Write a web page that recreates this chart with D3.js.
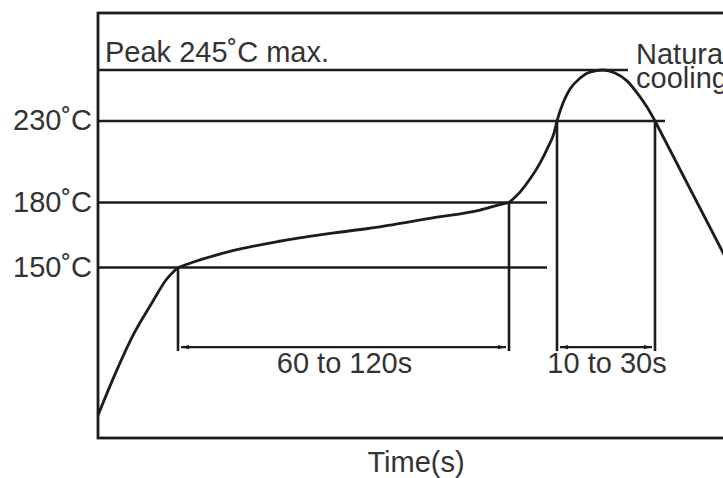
<!DOCTYPE html>
<html>
<head>
<meta charset="utf-8">
<script src="https://cdn.jsdelivr.net/npm/d3@7"></script>
<style>
  body { margin: 0; background: #fff; }
  svg { display: block; }
  .lbl { font-family: "Liberation Sans", Arial, sans-serif; font-size: 29px; fill: #333; }
</style>
</head>
<body>
<div id="chart"></div>
<script>
// time (s), temperature (degC)
var rampPts = [[0, 20], [8, 54], [18, 92], [27, 119], [34, 139], [40, 150]];
var soakPts = [[40, 150], [47, 152.3], [65, 157.2], [90, 162], [118, 166], [135, 168],
               [168, 173], [191, 176.5], [201, 179], [205.5, 180]];
var reflowPts = [[205.5, 180], [211, 186.4], [216, 194.4], [221, 204.2], [225, 214], [228, 222.6],
                 [229.5, 230], [232.5, 235.3], [236, 239.4], [241, 242.6], [246, 244.4], [252.5, 245],
                 [258.5, 244.1], [264.5, 241.8], [270, 237.9], [274.5, 234.1], [278.5, 230]];
var coolPts = [[278.5, 230], [313, 156]];

var tickTemps = [150, 180, 230];
var tickLabels = ["150˚C", "180˚C", "230˚C"];
// guide lines: temperature, end time
var guideTemps = [150, 180, 230, 245];
var guideEnds = [224.5, 224.5, 283.5, 265];
// timed intervals: start, end, label
var spanStarts = [40, 229.5];
var spanEnds = [205.5, 278.5];
var spanFrom = [150, 230];
var spanTo = [180, 230];
var spanLabels = ["60 to 120s", "10 to 30s"];
var bracketTemp = 80;

var W = 723, H = 478;

var x = d3.scaleLinear().domain([0, 312.5]).range([98, 723]);
// schematic, not to scale: piecewise between the marked temperatures
var y = d3.scaleLinear()
    .domain([0, 150, 180, 230, 245, 262])
    .range([438, 267.5, 202.5, 121, 70, 13]);

var svg = d3.select("#chart").append("svg")
    .attr("width", W)
    .attr("height", H);

var ink = "#1c1c1c";

svg.append("defs").selectAll("marker")
    .data(["arr"])
  .enter().append("marker")
    .attr("id", String)
    .attr("viewBox", "0 -5 10 10")
    .attr("refX", 10)
    .attr("refY", 0)
    .attr("markerUnits", "userSpaceOnUse")
    .attr("markerWidth", 11)
    .attr("markerHeight", 8)
    .attr("orient", "auto-start-reverse")
  .append("path")
    .attr("d", "M0,-2.6L10,0L0,2.6Z")
    .attr("fill", ink);

// frame (right side runs off the picture)
svg.append("rect")
    .attr("x", x(0))
    .attr("y", y(262))
    .attr("width", W + 40 - x(0))
    .attr("height", y(0) - y(262))
    .attr("fill", "none")
    .attr("stroke", ink)
    .attr("stroke-width", 2.8);

svg.append("g").selectAll("line")
    .data(guideTemps)
  .enter().append("line")
    .attr("x1", x(0))
    .attr("x2", function(d, i) { return x(guideEnds[i]); })
    .attr("y1", function(d) { return y(d); })
    .attr("y2", function(d) { return y(d); })
    .attr("stroke", ink)
    .attr("stroke-width", 2.6);

var yAxis = svg.append("g")
    .attr("transform", "translate(" + x(0) + ",0)")
    .call(d3.axisLeft(y)
        .tickValues(tickTemps)
        .tickSize(0)
        .tickPadding(6)
        .tickFormat(function(d, i) { return tickLabels[i]; }));
yAxis.select(".domain").remove();
yAxis.selectAll("text")
    .attr("class", "lbl")
    .attr("font-family", null)
    .attr("font-size", null)
    .attr("fill", null)
    .attr("dy", "0.3em");

// interval markers
var spans = svg.append("g").selectAll("g")
    .data(spanStarts)
  .enter().append("g");

spans.each(function(d, i) {
    var g = d3.select(this);
    var by = y(bracketTemp);
    [[spanStarts[i], spanFrom[i]], [spanEnds[i], spanTo[i]]].forEach(function(p) {
        g.append("line")
            .attr("x1", x(p[0])).attr("x2", x(p[0]))
            .attr("y1", y(p[1])).attr("y2", by + 4)
            .attr("stroke", ink)
            .attr("stroke-width", 2.6);
    });
    g.append("line")
        .attr("x1", x(spanStarts[i]) + 3)
        .attr("x2", x(spanEnds[i]) - 3)
        .attr("y1", by).attr("y2", by)
        .attr("stroke", ink)
        .attr("stroke-width", 2.2)
        .attr("marker-start", "url(#arr)")
        .attr("marker-end", "url(#arr)");
    g.append("text")
        .attr("class", "lbl")
        .attr("text-anchor", "middle")
        .attr("x", (x(spanStarts[i]) + x(spanEnds[i])) / 2 + 1)
        .attr("y", by + 26)
        .text(spanLabels[i]);
});

var line = d3.line()
    .x(function(d) { return x(d[0]); })
    .y(function(d) { return y(d[1]); })
    .curve(d3.curveMonotoneX);

svg.append("g").selectAll("path")
    .data([rampPts, soakPts, reflowPts])
  .enter().append("path")
    .attr("d", line)
    .attr("fill", "none")
    .attr("stroke", ink)
    .attr("stroke-width", 2.8)
    .attr("stroke-linejoin", "round");

svg.append("path")
    .attr("d", line.curve(d3.curveLinear)(coolPts))
    .attr("fill", "none")
    .attr("stroke", ink)
    .attr("stroke-width", 2.8);

svg.append("text")
    .attr("class", "lbl")
    .attr("x", x(3.5))
    .attr("y", y(245) - 8)
    .text("Peak 245˚C max.");

var nat = svg.append("text")
    .attr("class", "lbl")
    .attr("x", x(269))
    .attr("y", y(245) - 6);
nat.append("tspan").text("Natural");
nat.append("tspan")
    .attr("x", x(269))
    .attr("dy", 24)
    .text("cooling");

svg.append("text")
    .attr("class", "lbl")
    .attr("text-anchor", "middle")
    .attr("x", x(159))
    .attr("y", 472)
    .text("Time(s)");
</script>
</body>
</html>
